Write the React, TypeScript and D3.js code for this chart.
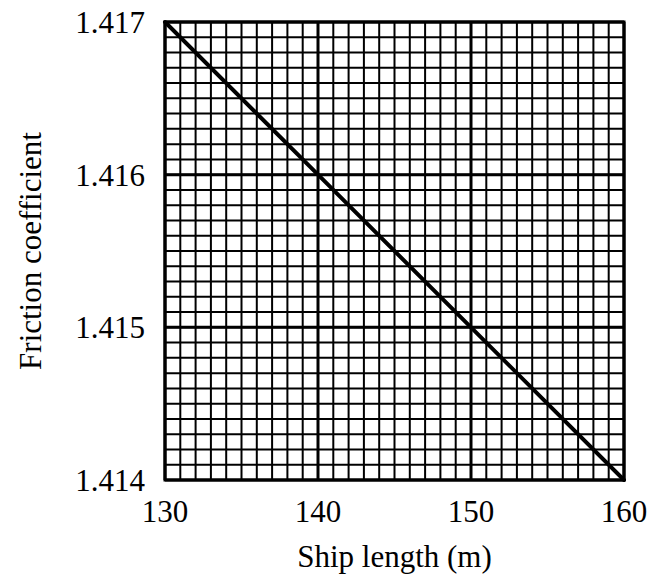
import React from 'react';
import * as d3 from 'd3';

// data
const shipLength = [130, 140, 150, 160];
const friction = [1.417, 1.416, 1.415, 1.414];
const xTickValues = [130, 140, 150, 160];
const yTickValues = [1.414, 1.415, 1.416, 1.417];

export default function App() {
  const width = 648;
  const height = 578;
  const margin = { top: 22, right: 24, bottom: 98, left: 165 };
  const innerWidth = width - margin.left - margin.right;
  const innerHeight = height - margin.top - margin.bottom;

  const xScale = d3.scaleLinear().domain([130, 160]).range([0, innerWidth]);
  const yScale = d3.scaleLinear().domain([1.414, 1.417]).range([innerHeight, 0]);

  // minor grid: every 1 m and every 0.0001
  const xMinor = d3.range(130, 160.001, 1);
  const yMinor = d3.range(0, 31).map(i => 1.414 + i * 0.0001);

  const points = shipLength.map((d, i) => [d, friction[i]] as [number, number]);
  const line = d3.line<[number, number]>()
    .x(d => xScale(d[0]))
    .y(d => yScale(d[1]))(points);

  const font = '"Liberation Serif", "Times New Roman", serif';
  const fs = 31;

  return (
    <svg width={width} height={height} style={{ position: 'absolute', left: 0, top: 0 }}>
      <g transform={`translate(${margin.left},${margin.top})`}>
        {xMinor.map(v => (
          <line key={'xm' + v} x1={xScale(v)} x2={xScale(v)} y1={0} y2={innerHeight}
            stroke="black" strokeWidth={2} />
        ))}
        {yMinor.map((v, i) => (
          <line key={'ym' + i} x1={0} x2={innerWidth} y1={yScale(v)} y2={yScale(v)}
            stroke="black" strokeWidth={2} />
        ))}
        {xTickValues.map(v => (
          <line key={'xM' + v} x1={xScale(v)} x2={xScale(v)} y1={0} y2={innerHeight}
            stroke="black" strokeWidth={3} />
        ))}
        {yTickValues.map(v => (
          <line key={'yM' + v} x1={0} x2={innerWidth} y1={yScale(v)} y2={yScale(v)}
            stroke="black" strokeWidth={3} />
        ))}
        <rect x={0} y={0} width={innerWidth} height={innerHeight} fill="none" stroke="black" strokeWidth={3} />
        <path d={line || ''} fill="none" stroke="black" strokeWidth={4} strokeLinecap="round" />

        {xTickValues.map(v => (
          <text key={'xt' + v} x={xScale(v)} y={innerHeight + 42} textAnchor="middle"
            fontFamily={font} fontSize={fs}>{v}</text>
        ))}
        {yTickValues.map(v => (
          <text key={'yt' + v} x={-20} y={yScale(v)} dy="0.35em" textAnchor="end"
            fontFamily={font} fontSize={fs}>{d3.format('.3f')(v)}</text>
        ))}
        <text x={innerWidth / 2} y={innerHeight + 87} textAnchor="middle"
          fontFamily={font} fontSize={fs}>Ship length (m)</text>
        <text transform={`translate(${-124},${innerHeight / 2}) rotate(-90)`} textAnchor="middle"
          fontFamily={font} fontSize={fs}>Friction coefficient</text>
      </g>
    </svg>
  );
}
